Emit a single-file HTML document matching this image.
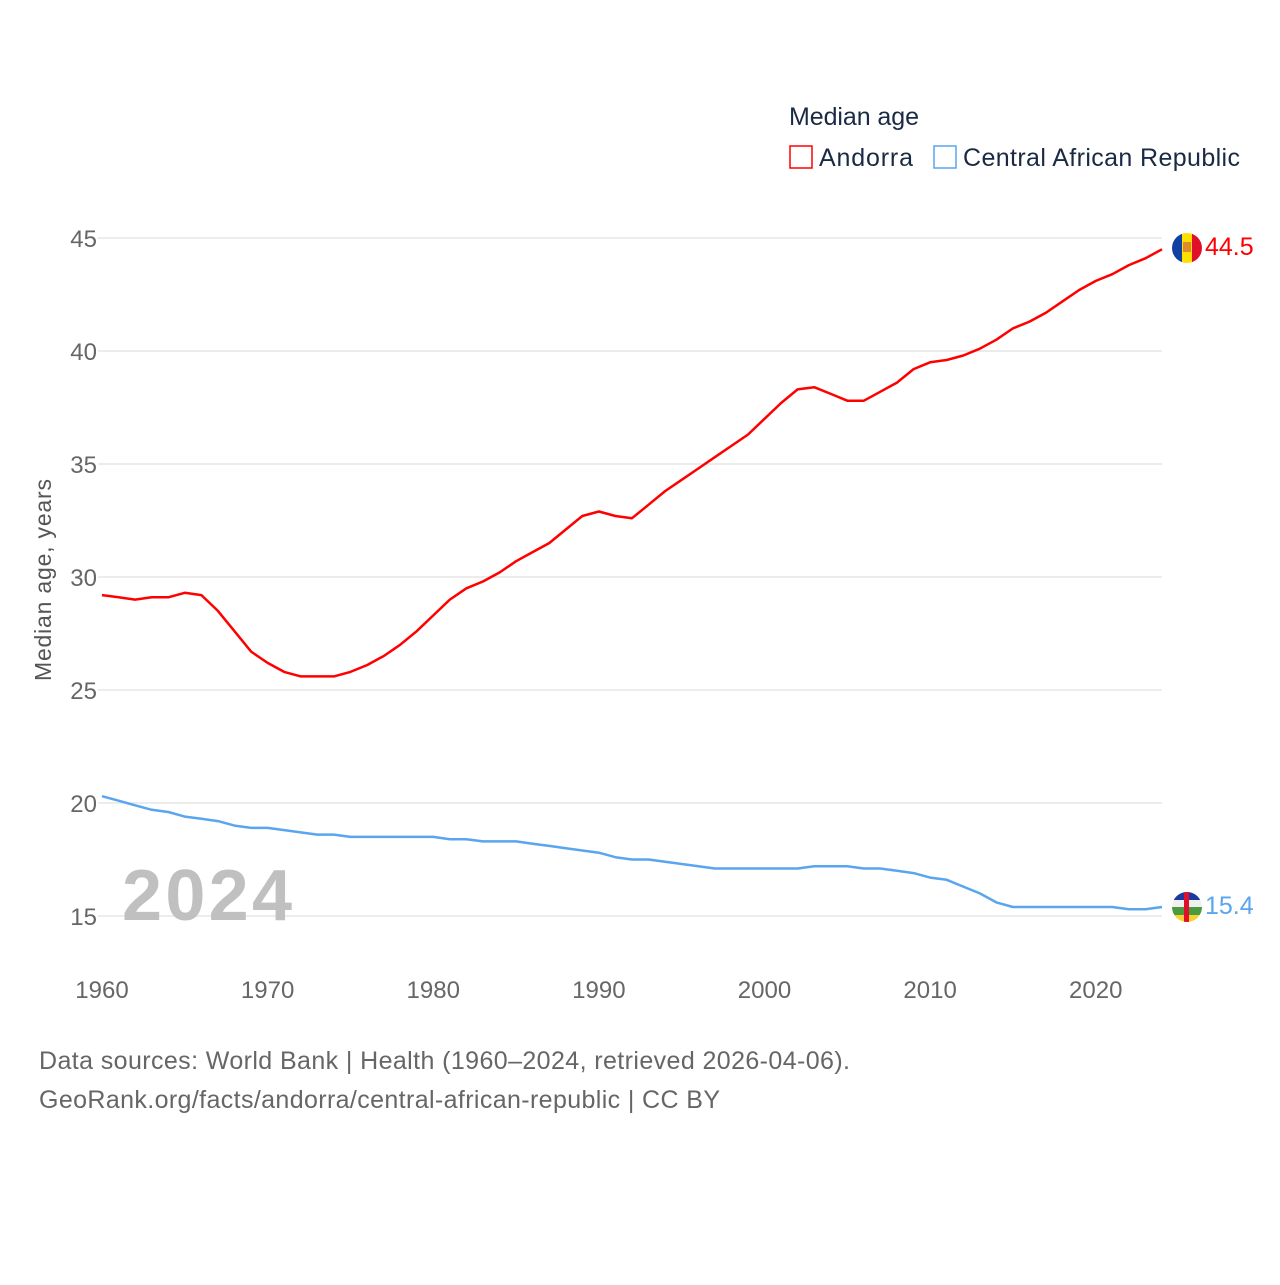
<!DOCTYPE html>
<html><head><meta charset="utf-8"><style>
html,body{margin:0;padding:0;background:#fff;}
body{width:1280px;height:1280px;overflow:hidden;font-family:"Liberation Sans",sans-serif;}
</style></head><body>
<svg id="chart" width="1280" height="1280" xmlns="http://www.w3.org/2000/svg" font-family="Liberation Sans, sans-serif">
<text x="789" y="125" font-size="25" fill="#1a2a44" textLength="130">Median age</text>
<g>
<rect x="790" y="146" width="22" height="22" fill="none" stroke="#ff0000" stroke-width="1.5"/>
<text x="819" y="166" font-size="25" fill="#1a2a44" textLength="94">Andorra</text></g>
<g>
<rect x="934" y="146" width="22" height="22" fill="none" stroke="#5aa5ee" stroke-width="1.5"/>
<text x="963" y="166" font-size="25" fill="#1a2a44" textLength="277">Central African Republic</text></g>
<g id="grid"></g>
<text x="207" y="920" font-size="72" font-weight="bold" fill="#c0c0c0" text-anchor="middle" textLength="170">2024</text>
<text transform="translate(51,580) rotate(-90)" font-size="23" fill="#555" text-anchor="middle" textLength="202">Median age, years</text>
<g id="series"></g>
<g>
<clipPath id="c1"><circle cx="1187" cy="248" r="15"/></clipPath>
<g clip-path="url(#c1)"><rect x="1172" y="233" width="10" height="30" fill="#1040a0"/><rect x="1182" y="233" width="10" height="30" fill="#fedf00"/><rect x="1192" y="233" width="10" height="30" fill="#e0102a"/><rect x="1183" y="242" width="8" height="10" fill="#e08a30"/></g></g>
<g>
<clipPath id="c2"><circle cx="1187" cy="907" r="15"/></clipPath>
<g clip-path="url(#c2)"><rect x="1172" y="892" width="30" height="8" fill="#1a3aa0"/><rect x="1172" y="900" width="30" height="7" fill="#f0f0f0"/><rect x="1172" y="907" width="30" height="8" fill="#4a9a40"/><rect x="1172" y="915" width="30" height="8" fill="#f8d030"/><rect x="1184" y="892" width="5" height="30" fill="#e0102a"/></g></g>
<text x="1205" y="255" font-size="25" fill="#ff0000">44.5</text>
<text x="1205" y="914" font-size="25" fill="#5aa5ee">15.4</text>
<text x="39" y="1069" font-size="25" fill="#666" textLength="811">Data sources: World Bank | Health (1960–2024, retrieved 2026-04-06).</text>
<text x="39" y="1108" font-size="25" fill="#666" textLength="681">GeoRank.org/facts/andorra/central-african-republic | CC BY</text>
</svg>
<script>
const years = [];
for (let y = 1960; y <= 2024; y++) years.push(y);
const andorra = [29.2,29.1,29.0,29.1,29.1,29.3,29.2,28.5,27.6,26.7,26.2,25.8,25.6,25.6,25.6,25.8,26.1,26.5,27.0,27.6,28.3,29.0,29.5,29.8,30.2,30.7,31.1,31.5,32.1,32.7,32.9,32.7,32.6,33.2,33.8,34.3,34.8,35.3,35.8,36.3,37.0,37.7,38.3,38.4,38.1,37.8,37.8,38.2,38.6,39.2,39.5,39.6,39.8,40.1,40.5,41.0,41.3,41.7,42.2,42.7,43.1,43.4,43.8,44.1,44.5];
const car = [20.3,20.1,19.9,19.7,19.6,19.4,19.3,19.2,19.0,18.9,18.9,18.8,18.7,18.6,18.6,18.5,18.5,18.5,18.5,18.5,18.5,18.4,18.4,18.3,18.3,18.3,18.2,18.1,18.0,17.9,17.8,17.6,17.5,17.5,17.4,17.3,17.2,17.1,17.1,17.1,17.1,17.1,17.1,17.2,17.2,17.2,17.1,17.1,17.0,16.9,16.7,16.6,16.3,16.0,15.6,15.4,15.4,15.4,15.4,15.4,15.4,15.4,15.3,15.3,15.4];
const yTicks = [15,20,25,30,35,40,45];
const xTicks = [1960,1970,1980,1990,2000,2010,2020];
const NS = "http://www.w3.org/2000/svg";
const xs = v => 102 + (v - 1960) * (1060 / 64);
const ys = v => 916 - (v - 15) * (678 / 30);
const grid = document.getElementById('grid');
yTicks.forEach(t => {
  const l = document.createElementNS(NS, 'line');
  l.setAttribute('x1', 98); l.setAttribute('x2', 1162);
  l.setAttribute('y1', ys(t)); l.setAttribute('y2', ys(t));
  l.setAttribute('stroke', '#e6e6e6'); l.setAttribute('stroke-width', 1.5);
  
  
  grid.appendChild(l);
  const tx = document.createElementNS(NS, 'text');
  tx.setAttribute('x', 97); tx.setAttribute('y', ys(t) + 9);
  tx.setAttribute('text-anchor', 'end'); tx.setAttribute('font-size', 24); tx.setAttribute('fill', '#666');
  tx.textContent = t;
  
  
  grid.appendChild(tx);
});
xTicks.forEach(t => {
  const tx = document.createElementNS(NS, 'text');
  tx.setAttribute('x', xs(t)); tx.setAttribute('y', 998);
  tx.setAttribute('text-anchor', 'middle'); tx.setAttribute('font-size', 24); tx.setAttribute('fill', '#666');
  tx.textContent = t;
  
  
  grid.appendChild(tx);
});
const series = document.getElementById('series');
function drawLine(vals, color, name) {
  const p = document.createElementNS(NS, 'path');
  p.setAttribute('d', vals.map((v, i) => (i ? 'L' : 'M') + xs(years[i]).toFixed(1) + ',' + ys(v).toFixed(1)).join(''));
  p.setAttribute('fill', 'none'); p.setAttribute('stroke', color); p.setAttribute('stroke-width', 2.5);
  p.setAttribute('stroke-linejoin', 'round');
  
  
  series.appendChild(p);
}
drawLine(andorra, '#ff0000', 'andorra-line');
drawLine(car, '#5aa5ee', 'car-line');
</script>
</body></html>
